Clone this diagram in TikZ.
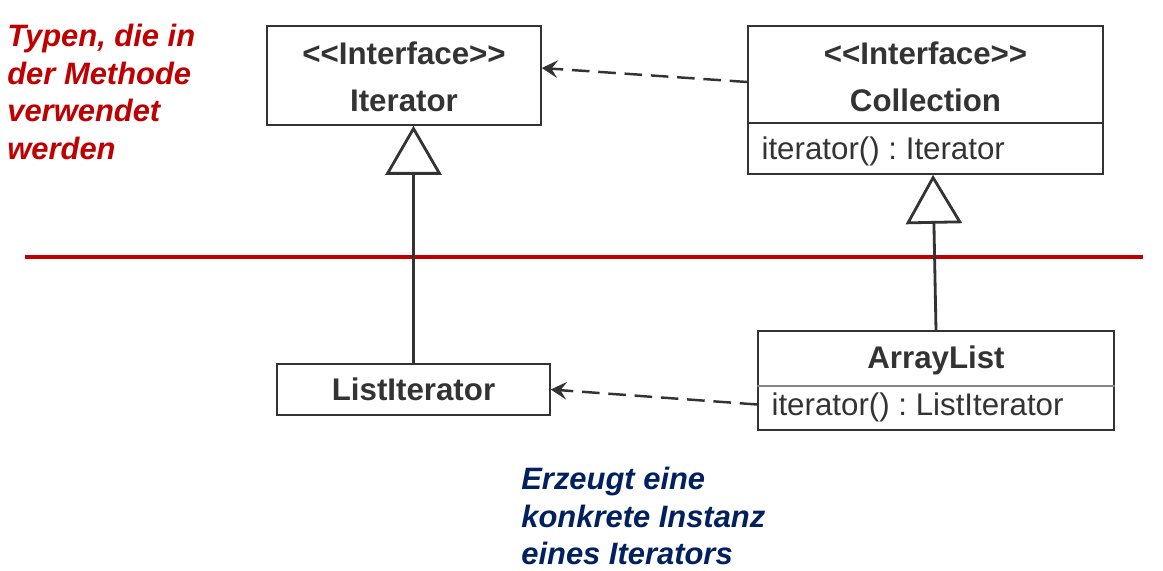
\documentclass[tikz,border=0pt]{standalone}
\usepackage{fontspec}
\setmainfont{Liberation Sans}
\usetikzlibrary{positioning, arrows.meta}

\definecolor{umlgray}{HTML}{333333}
\definecolor{notered}{HTML}{C00000}
\definecolor{noteblue}{HTML}{002060}

\tikzset{
  umlbox/.style={draw=umlgray, line width=0.9pt, rectangle, inner sep=0pt},
  umltext/.style={text=umlgray, inner sep=0pt, font=\fontsize{17.8}{21}\selectfont},
  umlbold/.style={text=umlgray, inner sep=0pt, font=\fontsize{17.8}{21}\selectfont\bfseries},
  depend/.style={draw=umlgray, line width=1.4pt, dash pattern=on 10pt off 5pt,
    -{Stealth[length=9pt, width=10pt, inset=3.5pt]}},
  inherit/.style={draw=umlgray, line width=1.6pt,
    -{Triangle[open, length=0.98cm, width=1.12cm]}},
  note/.style={inner sep=0pt, align=left, font=\fontsize{17.6}{21.3}\selectfont\bfseries\itshape},
}
\newcommand{\stereo}[1]{{<}{<}#1{>}{>}}

\begin{document}
\frenchspacing
\begin{tikzpicture}[x=0.02cm, y=-0.02cm]
\useasboundingbox (0,0) rectangle (1163,571);

\path
(404,75.5) node[umlbox, minimum width=5.48cm, minimum height=1.98cm] (iter) {}
(925.5,100) node[umlbox, minimum width=7.10cm, minimum height=2.96cm] (coll) {}
(413.5,389.5) node[umlbox, umlbold, minimum width=5.46cm, minimum height=1.02cm] (listit) {ListIterator}
(936,380.5) node[umlbox, minimum width=7.12cm, minimum height=1.98cm] (alist) {}
;

% class texts
\node[umlbold, anchor=base] (iter-st) at ([yshift=-0.78cm]iter.north) {\stereo{Interface}};
\node[umlbold, anchor=base] (iter-nm) at ([yshift=-1.73cm]iter.north) {Iterator};
\node[umlbold, anchor=base] (coll-st) at ([yshift=-0.78cm]coll.north) {\stereo{Interface}};
\node[umlbold, anchor=base] (coll-nm) at ([yshift=-1.72cm]coll.north) {Collection};
\node[umltext, anchor=base west] (coll-op) at ([xshift=0.28cm, yshift=-2.68cm]coll.north west) {iterator() : Iterator};
\node[umlbold, anchor=base] (alist-nm) at ([yshift=-0.76cm]alist.north) {ArrayList};
\node[umltext, anchor=base west] (alist-op) at ([xshift=0.28cm, yshift=-1.70cm]alist.north west) {iterator() : ListIterator};

\draw[umlgray, line width=0.9pt]
([yshift=-1.96cm]coll.north west) -- ([yshift=-1.96cm]coll.north east);
\draw[umlgray!60, line width=0.9pt]
([yshift=-1.12cm]alist.north west) -- ([yshift=-1.12cm]alist.north east);

\draw[notered, line width=2.2pt] (25,257) -- (1143,257);

\draw[inherit] (listit.north) -- (listit.north |- iter.south);
\draw[inherit] (alist.north) -- ([xshift=0.15cm]coll.south);

\draw[depend] ([yshift=0.36cm]coll.west) -- ([yshift=0.15cm]iter.east);
\draw[depend] ([yshift=-0.48cm]alist.west) -- (listit.east);

\node[note, text=notered, anchor=north west] (types) at (7,24)
{Typen, die in\\der Methode\\verwendet\\werden};
\node[note, text=noteblue, anchor=north west] (creates) at (521,467)
{Erzeugt eine\\konkrete Instanz\\eines Iterators};

\end{tikzpicture}
\end{document}
